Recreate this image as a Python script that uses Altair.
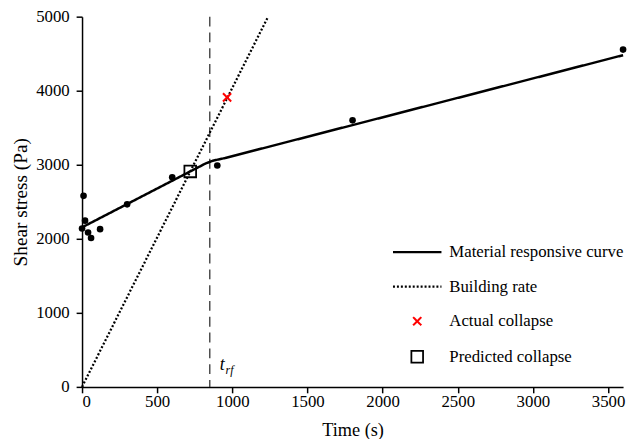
import altair as alt
import pandas as pd

# measured data points
obs_t = [0, 10, 20, 40, 60, 120, 300, 600, 900, 1800, 3600]
obs_tau = [2140, 2580, 2245, 2085, 2010, 2130, 2465, 2830, 2990, 3600, 4555]

# material responsive curve
curve_t = [10, 820, 870, 950, 3600]
curve_tau = [2165, 3015, 3055, 3090, 4480]

# building rate line
build_t = [0, 1238]
build_tau = [0, 5000]

# collapse markers
actual_t, actual_tau = [965], [3910]
pred_t, pred_tau = [720], [2910]

t_rf = 850

series = ["Material responsive curve", "Building rate", "Actual collapse", "Predicted collapse"]

obs = pd.DataFrame({"t": obs_t, "tau": obs_tau})
lines = pd.DataFrame(
    {"t": curve_t + build_t, "tau": curve_tau + build_tau,
     "series": [series[0]] * len(curve_t) + [series[1]] * len(build_t),
     "order": list(range(len(curve_t))) + list(range(len(build_t)))}
)
markers = pd.DataFrame(
    {"t": actual_t + pred_t, "tau": actual_tau + pred_tau, "series": [series[2], series[3]]}
)
vline = pd.DataFrame({"t": [t_rf]})

FONT = "Times New Roman, Liberation Serif, serif"

xscale = alt.Scale(domain=[0, 3600], nice=False)
yscale = alt.Scale(domain=[0, 5000], nice=False)
xenc = alt.X("t:Q", scale=xscale,
             axis=alt.Axis(title="Time (s)", format="d",
                           values=[0, 500, 1000, 1500, 2000, 2500, 3000, 3500]))
yenc = alt.Y("tau:Q", scale=yscale,
             axis=alt.Axis(title="Shear stress (Pa)", format="d",
                           values=[0, 1000, 2000, 3000, 4000, 5000]))

color_sc = alt.Scale(domain=series, range=["black", "black", "red", "black"])
dash_sc = alt.Scale(domain=series, range=[[1, 0], [2, 2], [1, 0], [1, 0]])
width_sc = alt.Scale(domain=series, range=[2.5, 1.8, 4, 1.6])
shape_sc = alt.Scale(domain=series,
                     range=["M-4.15,0L4.15,0", "M-4.15,0L4.15,0",
                            "M-0.7,-0.7L0.7,0.7M0.7,-0.7L-0.7,0.7", "square"])

legend = alt.Legend(title=None, orient="none", legendX=331, legendY=230,
                    labelFont=FONT, labelFontSize=17, labelColor="black",
                    symbolSize=140, rowPadding=17, labelOffset=24, labelLimit=0,
                    columnPadding=0, padding=0)

line_layer = alt.Chart(lines).mark_line().encode(
    x=xenc, y=yenc,
    order="order:Q",
    color=alt.Color("series:N", scale=color_sc, legend=legend),
    strokeDash=alt.StrokeDash("series:N", scale=dash_sc, legend=legend),
    strokeWidth=alt.StrokeWidth("series:N", scale=width_sc, legend=legend),
)

obs_layer = alt.Chart(obs).mark_circle(size=45, color="black", opacity=1).encode(x=xenc, y=yenc)

marker_layer = alt.Chart(markers).mark_point(filled=False, size=140, opacity=1).encode(
    x=xenc, y=yenc,
    color=alt.Color("series:N", scale=color_sc, legend=legend),
    shape=alt.Shape("series:N", scale=shape_sc, legend=legend),
    strokeWidth=alt.StrokeWidth("series:N", scale=width_sc, legend=legend),
)

vline_layer = alt.Chart(vline).mark_rule(color="#333333", strokeDash=[10, 6], strokeWidth=1.3).encode(x="t:Q")

trf_t = alt.Chart(vline).mark_text(text="t", font=FONT, fontSize=18, fontStyle="italic",
                                   align="left", dx=10, dy=-22, color="black").encode(
    x="t:Q", y=alt.datum(0))
trf_sub = alt.Chart(vline).mark_text(text="rf", font=FONT, fontSize=12, fontStyle="italic",
                                     align="left", dx=16, dy=-17, color="black").encode(
    x="t:Q", y=alt.datum(0))

chart = alt.layer(vline_layer, line_layer, obs_layer, marker_layer, trf_t, trf_sub).resolve_scale(
    color="shared", shape="shared", strokeDash="shared", strokeWidth="shared"
).properties(
    width=628, height=431,
    autosize=alt.AutoSizeParams(type="fit", contains="padding"),
    padding={"left": 3, "top": -3, "right": 0, "bottom": -3},
).configure(font=FONT).configure_view(stroke=None).configure_axis(
    grid=False, domainColor="black", domainWidth=1.5, tickColor="black", tickWidth=1.5, tickSize=6,
    labelFont=FONT, labelFontSize=17, labelColor="black",
    titleFont=FONT, titleFontWeight="normal", titleColor="black",
).configure_axisY(titlePadding=5, labelPadding=7, titleFontSize=19.5).configure_axisX(
    titlePadding=11, labelPadding=1, titleFontSize=18.5).configure_legend(labelFont=FONT)

chart.save("out.html", embed_options={"renderer": "svg", "actions": False})
